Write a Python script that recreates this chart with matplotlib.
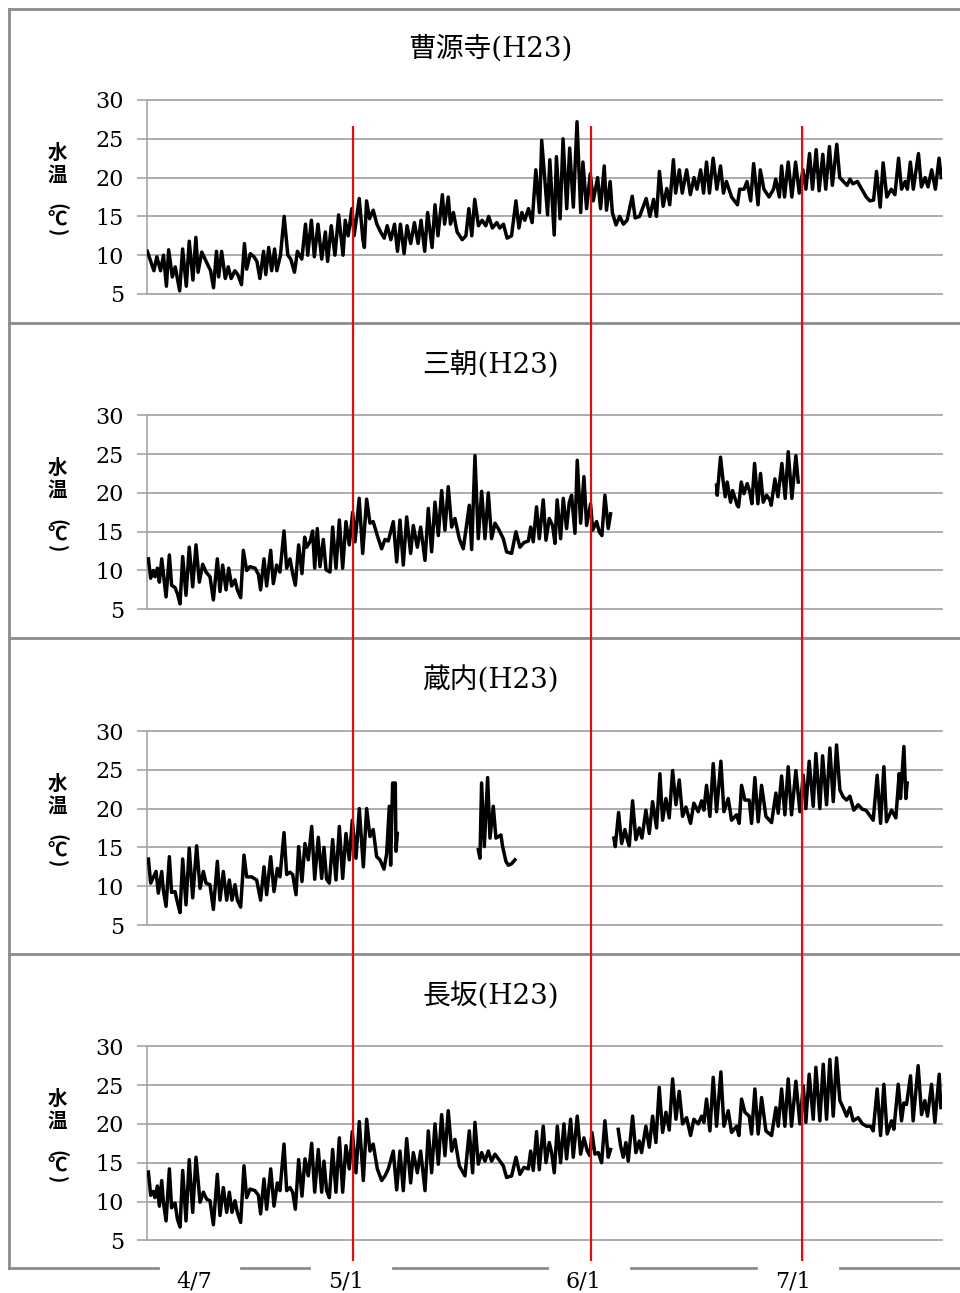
import numpy as np
import matplotlib
matplotlib.use("Agg")
import matplotlib.pyplot as plt
from matplotlib.lines import Line2D
from matplotlib.transforms import blended_transform_factory

nan = np.nan

# water temperature readings (day since start of record, deg C)
sogenji = [(-0.1, 10.5), (0.8, 8.0), (1.2, 9.8), (1.7, 8.0), (2.1, 10.0), (2.5, 6.0), (2.8, 10.7),
           (3.3, 7.2), (3.7, 8.5), (4.3, 5.4), (4.7, 10.8), (5.2, 6.0), (5.6, 11.8), (6.1, 6.8),
           (6.5, 12.3), (6.8, 7.8), (7.3, 10.4), (8.0, 9.0), (8.5, 8.0), (8.9, 5.8), (9.3, 10.5),
           (9.6, 7.2), (10.0, 10.5), (10.5, 7.0), (10.9, 8.5), (11.3, 7.0), (11.8, 8.0), (12.2, 7.5),
           (12.7, 6.2), (13.1, 11.5), (13.4, 8.2), (13.9, 10.2), (14.4, 9.8), (14.8, 9.2), (15.2, 7.0),
           (15.7, 10.5), (16.0, 7.5), (16.4, 11.0), (16.8, 8.0), (17.2, 10.8), (17.5, 8.0), (18.0, 10.0),
           (18.5, 15.0), (19.0, 10.0), (19.4, 9.5), (19.9, 7.8), (20.3, 10.5), (20.9, 9.5), (21.4, 14.0),
           (21.7, 10.0), (22.2, 14.5), (22.6, 9.8), (23.1, 14.0), (23.6, 9.5), (24.1, 13.0), (24.4, 9.2),
           (24.9, 13.8), (25.4, 10.0), (25.9, 15.2), (26.5, 10.0), (26.8, 14.5), (27.2, 12.5), (27.7, 16.0),
           (28.0, 12.5), (28.7, 17.3), (29.2, 12.0), (29.4, 11.0), (29.7, 17.0), (30.1, 14.7), (30.6, 15.8),
           (31.1, 14.0), (31.6, 13.0), (32.1, 12.2), (32.5, 13.8), (33.0, 12.0), (33.5, 14.0), (33.9, 10.5),
           (34.3, 14.0), (34.8, 10.2), (35.2, 13.8), (35.7, 11.5), (36.2, 14.2), (36.7, 11.5), (37.1, 14.5),
           (37.6, 10.5), (38.0, 15.5), (38.6, 11.0), (39.0, 16.5), (39.4, 12.5), (40.0, 17.8), (40.3, 14.0),
           (40.8, 17.5), (41.1, 14.0), (41.5, 15.5), (42.0, 13.0), (42.7, 12.0), (43.2, 12.5), (43.6, 16.0),
           (44.0, 12.5), (44.4, 17.2), (44.9, 13.8), (45.4, 14.5), (45.9, 13.8), (46.3, 15.0), (46.8, 13.5),
           (47.4, 14.2), (47.8, 13.5), (48.3, 14.0), (48.8, 12.2), (49.4, 12.5), (50.0, 17.0), (50.4, 13.5),
           (50.8, 15.5), (51.2, 14.5), (51.7, 16.0), (52.2, 14.2), (52.7, 21.0), (53.2, 15.5), (53.5, 24.8),
           (54.3, 15.2), (54.6, 22.3), (55.2, 12.6), (55.5, 22.7), (56.0, 14.7), (56.4, 25.0), (56.9, 16.0),
           (57.3, 23.8), (57.8, 16.2), (58.3, 27.2), (58.8, 15.5), (59.1, 22.0), (59.6, 16.0), (60.1, 20.5),
           (60.5, 17.0), (61.1, 20.0), (61.5, 16.0), (62.0, 21.5), (62.3, 15.8), (62.8, 19.5), (63.1, 15.5),
           (63.6, 13.9), (64.1, 15.0), (64.6, 14.0), (65.1, 14.5), (65.8, 17.6), (66.2, 14.8), (66.8, 15.0),
           (67.7, 17.3), (68.2, 15.0), (68.7, 17.2), (69.1, 15.0), (69.5, 20.8), (70.0, 16.3), (70.5, 18.6),
           (70.9, 16.5), (71.4, 22.3), (71.7, 18.0), (72.2, 21.0), (72.6, 18.0), (73.2, 21.0), (73.7, 17.8),
           (74.2, 20.0), (74.6, 18.5), (75.1, 21.0), (75.5, 18.0), (75.9, 22.0), (76.3, 18.0), (76.8, 22.5),
           (77.3, 18.5), (77.8, 21.5), (78.2, 18.0), (78.6, 19.5), (79.3, 17.5), (80.1, 16.5), (80.4, 18.5),
           (81.0, 18.5), (81.4, 19.5), (81.9, 17.0), (82.3, 21.8), (82.9, 16.5), (83.2, 21.0), (83.7, 18.5),
           (84.4, 17.5), (85.0, 18.5), (85.3, 19.8), (85.8, 17.5), (86.1, 21.5), (86.5, 17.5), (87.0, 22.0),
           (87.5, 17.5), (88.0, 22.0), (88.5, 18.0), (89.0, 21.0), (89.4, 18.5), (89.9, 23.1), (90.3, 18.5),
           (90.8, 23.6), (91.2, 18.3), (91.7, 23.0), (92.1, 18.5), (92.6, 24.0), (93.0, 19.0), (93.6, 24.3),
           (94.0, 20.0), (94.5, 19.5), (95.0, 19.0), (95.4, 19.8), (95.8, 19.2), (96.4, 19.5), (97.0, 18.5),
           (97.6, 17.5), (98.1, 17.0), (98.6, 17.1), (99.0, 20.8), (99.5, 16.2), (99.9, 21.9), (100.4, 17.5),
           (101.0, 18.5), (101.5, 17.8), (102.0, 22.5), (102.4, 18.5), (102.9, 19.5), (103.2, 18.5),
           (103.6, 22.0), (104.0, 18.5), (104.7, 23.1), (105.1, 18.8), (105.6, 20.0), (106.0, 18.8),
           (106.5, 21.0), (107.0, 18.5), (107.5, 22.5), (107.8, 20.0)]

misasa = [(0.05, 11.5), (0.36, 9.0), (0.72, 10.0), (0.95, 9.2), (1.27, 10.3), (1.54, 8.5), (1.86, 11.5),
          (2.45, 6.6), (2.9, 12.0), (3.2, 8.1), (3.67, 7.8), (4.0, 7.0), (4.35, 5.7), (4.71, 11.8),
          (5.16, 6.8), (5.6, 13.0), (6.07, 7.9), (6.52, 13.3), (6.97, 8.5), (7.43, 10.8), (7.88, 9.8),
          (8.42, 9.2), (8.88, 6.2), (9.42, 11.5), (9.78, 7.3), (10.14, 10.7), (10.6, 7.5), (10.96, 10.3),
          (11.37, 8.0), (11.82, 8.8), (12.14, 7.5), (12.59, 6.5), (12.95, 12.6), (13.4, 10.0), (13.86, 10.5),
          (14.54, 10.3), (15.0, 9.5), (15.3, 7.5), (15.76, 11.5), (16.12, 8.0), (16.67, 12.6), (17.03, 8.3),
          (17.48, 10.7), (17.93, 9.8), (18.48, 15.1), (18.84, 10.3), (19.29, 11.5), (19.66, 9.6), (20.02, 8.1),
          (20.47, 13.3), (20.92, 9.6), (21.29, 14.3), (21.56, 13.0), (22.01, 13.7), (22.37, 15.1),
          (22.65, 10.3), (23.0, 15.4), (23.37, 10.5), (23.82, 14.0), (24.19, 10.1), (24.73, 9.8),
          (25.09, 15.6), (25.54, 10.3), (26.0, 16.5), (26.45, 10.3), (26.9, 16.3), (27.35, 13.3),
          (27.81, 17.5), (28.13, 13.7), (28.7, 19.3), (29.17, 12.2), (29.71, 19.2), (30.16, 16.1),
          (30.6, 16.3), (31.16, 14.5), (31.75, 12.8), (32.2, 14.0), (32.65, 13.8), (33.33, 16.3),
          (33.79, 11.1), (34.24, 16.5), (34.69, 10.7), (35.15, 16.9), (35.69, 12.2), (36.05, 15.8),
          (36.6, 13.0), (37.05, 15.6), (37.64, 11.3), (38.09, 18.0), (38.54, 12.4), (39.0, 18.8),
          (39.45, 14.5), (39.9, 20.3), (40.35, 15.2), (40.8, 20.8), (41.26, 15.6), (41.71, 16.7),
          (42.3, 14.1), (42.84, 12.8), (43.66, 18.4), (43.98, 12.7), (44.43, 24.8), (44.88, 14.1),
          (45.34, 20.2), (45.79, 14.1), (46.24, 20.0), (46.69, 14.1), (47.15, 16.1), (47.6, 15.4),
          (48.28, 14.1), (48.73, 12.4), (49.41, 12.2), (50.0, 15.0), (50.54, 13.0), (51.09, 13.6),
          (51.68, 13.8), (52.0, 15.6), (52.35, 13.7), (52.8, 18.2), (53.17, 14.1), (53.71, 19.1),
          (54.08, 13.9), (54.53, 16.7), (54.98, 15.8), (55.3, 13.5), (55.6, 19.1), (56.07, 14.1),
          (56.43, 19.3), (56.88, 15.4), (57.25, 18.8), (57.56, 19.7), (58.02, 14.8), (58.33, 24.2),
          (58.79, 16.1), (59.24, 22.1), (59.6, 15.8), (60.14, 18.6), (60.42, 15.2), (60.96, 16.3),
          (61.32, 15.0), (61.68, 14.5), (62.09, 19.7), (62.54, 15.4), (62.86, 17.3), (70.0, nan),
          (77.26, 21.0), (77.35, 19.7), (77.8, 24.6), (78.17, 21.4), (78.44, 19.5), (78.71, 21.4),
          (79.17, 18.8), (79.44, 20.3), (80.07, 18.4), (80.25, 18.2), (80.62, 21.4), (80.98, 19.9),
          (81.43, 21.2), (81.79, 20.1), (82.06, 18.6), (82.43, 23.8), (82.88, 18.6), (83.24, 22.5),
          (83.6, 18.8), (84.06, 19.7), (84.51, 19.1), (84.69, 18.4), (85.19, 21.8), (85.6, 19.5),
          (86.14, 23.8), (86.59, 19.3), (87.0, 25.3), (87.5, 19.3), (88.04, 24.8), (88.36, 21.4)]

kurauchi = [(0.05, 13.5), (0.36, 10.4), (1.09, 11.9), (1.4, 9.1), (1.86, 11.9), (2.08, 9.5), (2.45, 7.4),
            (2.9, 13.8), (3.2, 9.2), (3.67, 9.3), (4.0, 7.9), (4.35, 6.6), (4.71, 13.5), (5.16, 7.6),
            (5.6, 14.9), (6.07, 8.5), (6.61, 15.2), (7.07, 9.7), (7.52, 11.9), (7.88, 10.4), (8.42, 10.2),
            (8.88, 7.0), (9.42, 13.2), (9.78, 8.2), (10.23, 11.9), (10.69, 8.2), (11.05, 10.8), (11.41, 8.2),
            (11.82, 10.2), (12.14, 8.2), (12.59, 7.3), (13.04, 14.0), (13.4, 11.2), (14.09, 11.2),
            (14.76, 10.8), (15.3, 8.2), (15.76, 12.5), (16.12, 8.9), (16.67, 13.8), (17.12, 9.3),
            (17.57, 12.3), (17.93, 11.2), (18.48, 16.9), (18.84, 11.5), (19.29, 11.8), (19.66, 11.5),
            (20.11, 8.9), (20.47, 15.1), (20.92, 10.6), (21.33, 15.5), (21.78, 13.4), (22.24, 17.7),
            (22.65, 10.9), (23.14, 16.3), (23.6, 11.0), (23.91, 15.0), (24.27, 10.9), (24.64, 10.4),
            (25.09, 16.0), (25.54, 10.8), (26.0, 17.7), (26.45, 11.0), (26.9, 16.8), (27.35, 13.4),
            (27.76, 18.5), (28.26, 13.6), (28.71, 20.0), (29.26, 12.5), (29.71, 20.0), (30.16, 16.4),
            (30.6, 17.3), (31.07, 13.8), (31.52, 13.4), (32.07, 12.2), (32.43, 14.2), (32.79, 20.3),
            (32.97, 12.7), (33.24, 23.3), (33.6, 23.3), (33.7, 14.5), (33.88, 16.8), (40.0, nan),
            (44.88, 14.7), (45.11, 13.6), (45.33, 23.3), (45.7, 15.1), (46.15, 24.0), (46.47, 16.2),
            (46.92, 20.3), (47.28, 16.2), (47.96, 16.6), (48.19, 15.1), (48.64, 13.2), (48.96, 12.7),
            (49.41, 12.9), (49.86, 13.4), (55.0, nan),
            (63.31, 16.2), (63.5, 15.1), (63.95, 19.5), (64.36, 15.5), (64.81, 17.3), (65.13, 16.0),
            (65.4, 15.2), (65.85, 21.0), (66.3, 16.0), (66.76, 17.5), (67.12, 16.2), (67.66, 19.8),
            (68.12, 16.8), (68.57, 20.9), (69.11, 17.5), (69.56, 24.5), (69.93, 18.5), (70.38, 21.3),
            (70.83, 18.8), (71.29, 24.9), (71.74, 20.5), (72.19, 23.7), (72.64, 19.0), (73.1, 20.2),
            (73.73, 18.1), (74.18, 20.7), (74.77, 19.6), (75.23, 21.0), (75.54, 19.8), (75.9, 23.0),
            (76.36, 19.0), (76.81, 25.8), (77.26, 19.6), (77.85, 26.1), (78.26, 19.6), (78.85, 21.3),
            (79.3, 18.5), (79.98, 19.2), (80.34, 18.1), (80.66, 23.0), (81.11, 21.1), (81.7, 21.1),
            (82.02, 18.1), (82.47, 24.0), (82.92, 18.3), (83.38, 23.0), (83.97, 19.0), (84.74, 18.2),
            (85.33, 22.0), (85.64, 19.4), (86.1, 24.2), (86.55, 19.2), (87.0, 25.4), (87.45, 19.2),
            (88.04, 24.9), (88.59, 19.6), (89.04, 24.3), (89.4, 20.0), (89.85, 26.1), (90.4, 20.3),
            (90.76, 27.1), (91.3, 20.0), (91.67, 26.8), (92.21, 20.5), (92.66, 27.8), (93.12, 20.9),
            (93.57, 28.2), (94.02, 22.4), (94.47, 21.5), (94.93, 21.1), (95.38, 21.6), (95.92, 19.8),
            (96.51, 20.5), (97.1, 19.9), (97.55, 19.8), (98.1, 19.1), (98.55, 18.5), (99.09, 24.3),
            (99.55, 18.1), (100.0, 25.4), (100.36, 18.3), (101.04, 19.8), (101.63, 18.8), (102.08, 24.5),
            (102.26, 21.3), (102.72, 28.0), (102.99, 21.3), (103.17, 23.3)]

nagasaka = [(0.05, 13.8), (0.36, 10.8), (0.72, 11.3), (0.95, 10.5), (1.27, 12.0), (1.54, 9.4), (1.86, 12.7),
            (2.08, 10.0), (2.45, 7.5), (2.9, 14.2), (3.2, 9.2), (3.67, 9.8), (4.0, 7.7), (4.35, 6.7),
            (4.71, 14.0), (5.16, 7.5), (5.6, 15.4), (6.07, 8.6), (6.52, 15.7), (7.07, 9.9), (7.52, 11.2),
            (7.97, 10.3), (8.42, 10.1), (8.88, 7.0), (9.42, 13.5), (9.78, 8.2), (10.23, 11.8), (10.69, 8.6),
            (11.05, 11.2), (11.41, 8.6), (11.82, 10.1), (12.14, 8.6), (12.59, 7.3), (13.04, 14.6),
            (13.4, 10.5), (13.86, 11.6), (14.54, 11.4), (15.0, 10.8), (15.3, 8.4), (15.76, 12.9),
            (16.12, 9.0), (16.67, 14.2), (17.12, 9.4), (17.57, 12.4), (17.93, 11.4), (18.48, 17.4),
            (18.84, 11.4), (19.29, 11.8), (19.66, 11.2), (20.02, 9.0), (20.47, 15.4), (20.92, 10.7),
            (21.33, 15.5), (21.78, 13.3), (22.24, 17.5), (22.65, 11.2), (23.14, 16.7), (23.6, 11.2),
            (23.91, 15.2), (24.27, 11.4), (24.64, 10.5), (25.09, 16.7), (25.54, 11.2), (26.0, 18.2),
            (26.45, 11.2), (26.9, 17.2), (27.35, 14.2), (27.76, 19.0), (28.26, 13.7), (28.71, 20.3),
            (29.26, 12.7), (29.71, 20.6), (30.16, 16.5), (30.6, 17.4), (31.16, 14.2), (31.75, 12.7),
            (32.2, 13.3), (32.65, 14.2), (33.33, 16.5), (33.79, 11.5), (34.24, 16.5), (34.69, 11.4),
            (35.15, 18.1), (35.69, 12.4), (36.05, 16.3), (36.6, 13.7), (37.05, 16.5), (37.64, 11.4),
            (38.09, 19.1), (38.54, 13.7), (39.0, 20.0), (39.45, 14.8), (39.9, 21.2), (40.35, 15.9),
            (40.8, 21.7), (41.26, 16.5), (41.71, 18.0), (42.3, 14.6), (43.07, 13.3), (43.66, 19.1),
            (44.11, 13.7), (44.43, 20.2), (44.88, 14.8), (45.34, 16.3), (45.79, 15.2), (46.24, 16.5),
            (46.69, 15.2), (47.15, 16.1), (47.83, 15.2), (48.28, 14.6), (48.73, 13.1), (49.41, 13.3),
            (50.0, 15.7), (50.54, 13.5), (51.09, 14.4), (51.68, 14.2), (52.0, 16.5), (52.35, 14.0),
            (52.8, 19.0), (53.17, 14.1), (53.71, 19.7), (54.08, 15.0), (54.53, 17.6), (54.85, 16.3),
            (55.21, 13.7), (55.62, 19.7), (56.07, 15.0), (56.52, 20.0), (56.88, 15.5), (57.43, 20.6),
            (57.79, 15.7), (58.33, 21.0), (58.79, 16.1), (59.24, 18.2), (59.69, 16.5), (60.05, 15.9),
            (60.33, 18.9), (60.73, 16.1), (61.19, 16.3), (61.64, 15.0), (62.09, 20.4), (62.54, 15.7),
            (62.86, 16.7), (63.4, nan),
            (63.9, 19.3), (64.22, 17.2), (64.58, 15.7), (64.94, 17.6), (65.26, 15.2), (65.85, 21.0),
            (66.3, 16.3), (66.76, 17.8), (67.07, 16.3), (67.66, 19.7), (68.12, 17.0), (68.57, 21.0),
            (69.02, 17.6), (69.47, 24.7), (69.93, 18.9), (70.38, 21.5), (70.83, 19.2), (71.29, 25.8),
            (71.74, 20.6), (72.19, 24.2), (72.64, 20.0), (73.19, 20.8), (73.73, 18.5), (74.18, 20.6),
            (74.77, 20.0), (75.23, 21.0), (75.54, 20.2), (75.9, 23.2), (76.36, 19.1), (76.81, 26.0),
            (77.26, 19.7), (77.85, 26.7), (78.26, 19.7), (78.85, 21.7), (79.3, 18.9), (79.98, 19.7),
            (80.3, 18.5), (80.66, 23.2), (81.11, 21.5), (81.7, 21.0), (82.02, 18.7), (82.47, 24.5),
            (82.92, 18.7), (83.38, 23.4), (83.97, 19.1), (84.74, 18.5), (85.33, 22.1), (85.64, 19.7),
            (86.1, 24.5), (86.55, 19.7), (87.0, 25.8), (87.45, 19.7), (88.04, 25.5), (88.59, 20.0),
            (89.04, 24.9), (89.4, 20.2), (89.85, 26.4), (90.4, 20.6), (90.76, 27.3), (91.3, 20.4),
            (91.76, 27.7), (92.21, 20.6), (92.66, 28.3), (93.12, 21.0), (93.57, 28.5), (94.02, 23.0),
            (94.47, 22.1), (94.93, 21.0), (95.38, 22.1), (95.83, 20.4), (96.51, 20.8), (97.1, 20.0),
            (97.64, 19.7), (98.19, 19.7), (98.55, 19.1), (99.09, 24.5), (99.55, 18.5), (100.0, 25.1),
            (100.45, 18.7), (101.04, 20.4), (101.36, 19.3), (101.95, 25.1), (102.4, 20.4), (102.72, 22.7),
            (103.08, 22.5), (103.62, 26.2), (103.98, 20.4), (104.66, 27.5), (105.12, 21.2), (105.57, 23.0),
            (105.93, 21.0), (106.48, 25.1), (106.93, 20.2), (107.52, 26.4), (107.74, 22.1)]

titles = ['曹源寺(H23)', '三朝(H23)', '蔵内(H23)', '長坂(H23)']
series = [sogenji, misasa, kurauchi, nagasaka]
y_ticks = [5, 10, 15, 20, 25, 30]
date_labels = ['4/7', '5/1', '6/1', '7/1']
label_day = [6.3, 26.9, 59.2, 87.6]
marker_day = [27.85, 60.26, 88.83]   # red lines at 5/1, 6/1, 7/1 (drawn by hand in the source)

W, H = 960, 1293
fig = plt.figure(figsize=(W / 100, H / 100), dpi=100)
fig.patch.set_facecolor('white')


def fx(px):
    return px / W


def fy(py):
    return 1 - py / H


SERIF = 'DejaVu Serif'
JP = 'Noto Sans CJK JP'
GRID = '#a6a6a6'
FRAME = '#8c8c8c'

grid_top = [100, 415.3, 731, 1046.3]
plot_h = 194
axes = []
for i in range(4):
    top = grid_top[i]
    ax = fig.add_axes([fx(147), fy(top + plot_h), fx(942) - fx(147), plot_h / H])
    day, temp = np.array(series[i], dtype=float).T
    ax.plot(day, temp, color='black', lw=2.5, zorder=3)
    ax.set_xlim(-0.14, 107.9)
    ax.set_ylim(5, 30)
    ax.set_yticks(y_ticks)
    ax.set_yticklabels([str(v) for v in y_ticks], fontfamily=SERIF, fontsize=16)
    ax.set_xticks([])
    for s in ['top', 'right', 'bottom']:
        ax.spines[s].set_visible(False)
    ax.spines['left'].set_color(GRID)
    ax.spines['left'].set_linewidth(1.2)
    ax.tick_params(axis='y', length=7.2, width=1.2, color=GRID, pad=9.5)
    ax.grid(axis='y', color=GRID, lw=1.3)
    ax.set_axisbelow(True)
    for gl in ax.yaxis.get_gridlines():
        gl.set_clip_on(False)
    ax.patch.set_alpha(0)

    ax.text(0.432, 1.262, titles[i], transform=ax.transAxes, ha='center', va='center',
            fontsize=20, family=[SERIF, JP])

    # vertical y label 水温(℃)
    xl = (57 - 147) / 795
    for ch, off, rot in [('水', 53.5, 0), ('温', 75, 0), ('(', 107, -90), ('℃', 120, 0), (')', 133, -90)]:
        ax.text(xl, 1 - off / plot_h, ch, transform=ax.transAxes, ha='center', va='center',
                rotation=rot, fontsize=14, family=JP, fontweight='bold')
    axes.append(ax)

# red month markers across all panels
trans = blended_transform_factory(axes[0].transData, fig.transFigure)
for d in marker_day:
    fig.add_artist(Line2D([d, d], [fy(127), fy(1260)], transform=trans, color='red', lw=1.5, zorder=5))

# outer frame and panel separators
fig.add_artist(Line2D([fx(9), fx(9)], [fy(9), fy(1268)], color=FRAME, lw=2))
for py in [9, 322.5, 638, 953.5]:
    fig.add_artist(Line2D([fx(9), 1], [fy(py), fy(py)], color=FRAME, lw=2))

# bottom edge broken by the date labels
bt = blended_transform_factory(axes[-1].transData, fig.transFigure)
inv = fig.transFigure.inverted()


def to_fig_x(d):
    return inv.transform(axes[-1].transData.transform((d, 5)))[0]


xs = [fx(9)]
for d in label_day:
    xs += [to_fig_x(d + 0.7 - 5.7), to_fig_x(d + 0.7 + 5.7)]
xs.append(1)
for a, b in zip(xs[0::2], xs[1::2]):
    fig.add_artist(Line2D([a, b], [fy(1268), fy(1268)], color=FRAME, lw=2))

for d, lab in zip(label_day, date_labels):
    axes[-1].text(d, fy(1281), lab, transform=bt, ha='center', va='center',
                  fontsize=16, family=SERIF)

fig.savefig('out.png', dpi=100, facecolor='white')
